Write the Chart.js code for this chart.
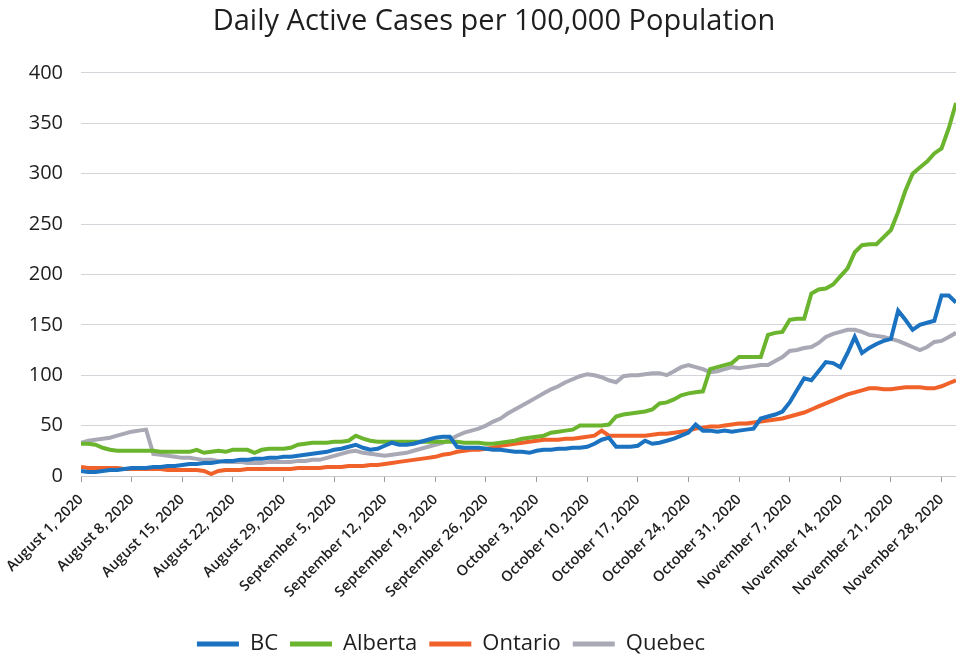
<!DOCTYPE html>
<html>
<head>
<meta charset="utf-8">
<script src="https://cdn.jsdelivr.net/npm/chart.js@4.4.1/dist/chart.umd.min.js"></script>
<style>
  html, body { margin: 0; padding: 0; background: #ffffff; }
  #wrap { width: 956px; height: 654px; }
</style>
</head>
<body>
<div id="wrap"><canvas id="c" width="956" height="654"></canvas></div>
<script>
// Weekly tick labels (every 7 days starting August 1, 2020)
const tickLabels = [
  "August 1, 2020", "August 8, 2020", "August 15, 2020", "August 22, 2020", "August 29, 2020",
  "September 5, 2020", "September 12, 2020", "September 19, 2020", "September 26, 2020",
  "October 3, 2020", "October 10, 2020", "October 17, 2020", "October 24, 2020", "October 31, 2020",
  "November 7, 2020", "November 14, 2020", "November 21, 2020", "November 28, 2020"
];
const seriesNames = ["BC", "Alberta", "Ontario", "Quebec"];

// Daily values, August 1 .. November 30, 2020 (122 days)
const bc = [
  5, 4, 4, 5, 6, 6, 7, 8, 8, 8, 9, 9, 10, 10, 11, 12, 12, 13, 13, 14,
  15, 15, 16, 16, 17, 17, 18, 18, 19, 19, 20, 21, 22, 23, 24, 26, 27, 29, 31, 28,
  26, 27, 30, 33, 31, 31, 32, 34, 36, 38, 39, 39, 29, 28, 28, 28, 27, 26, 26, 25,
  24, 24, 23, 25, 26, 26, 27, 27, 28, 28, 29, 32, 36, 38, 29, 29, 29, 30, 35, 32,
  33, 35, 37, 40, 43, 51, 45, 45, 44, 45, 44, 45, 46, 47, 57, 59, 61, 64, 73, 85,
  97, 95, 104, 113, 112, 108, 122, 138, 122, 127, 131, 134, 136, 164, 155, 145, 150, 152, 154, 179,
  179, 172
];
const alberta = [
  32, 32, 31, 28, 26, 25, 25, 25, 25, 25, 25, 24, 24, 24, 24, 24, 26, 23, 24, 25,
  24, 26, 26, 26, 23, 26, 27, 27, 27, 28, 31, 32, 33, 33, 33, 34, 34, 35, 40, 37,
  35, 34, 34, 34, 34, 34, 34, 34, 34, 34, 34, 34, 34, 33, 33, 33, 32, 32, 33, 34,
  35, 37, 38, 39, 40, 43, 44, 45, 46, 50, 50, 50, 50, 51, 59, 61, 62, 63, 64, 66,
  72, 73, 76, 80, 82, 83, 84, 106, 108, 110, 112, 118, 118, 118, 118, 140, 142, 143, 155, 156,
  156, 181, 185, 186, 190, 198, 206, 222, 229, 230, 230, 237, 244, 262, 283, 300, 306, 312, 320, 325,
  345, 370
];
const ontario = [
  9, 8, 8, 8, 8, 8, 7, 7, 7, 7, 7, 7, 6, 6, 6, 6, 6, 5, 2, 5,
  6, 6, 6, 7, 7, 7, 7, 7, 7, 7, 8, 8, 8, 8, 9, 9, 9, 10, 10, 10,
  11, 11, 12, 13, 14, 15, 16, 17, 18, 19, 21, 22, 24, 25, 26, 26, 27, 28, 30, 31,
  32, 33, 34, 35, 36, 36, 36, 37, 37, 38, 39, 40, 45, 40, 40, 40, 40, 40, 40, 41,
  42, 42, 43, 44, 45, 47, 48, 49, 49, 50, 51, 52, 52, 53, 54, 55, 56, 57, 59, 61,
  63, 66, 69, 72, 75, 78, 81, 83, 85, 87, 87, 86, 86, 87, 88, 88, 88, 87, 87, 89,
  92, 95
];
const quebec = [
  33, 35, 36, 37, 38, 40, 42, 44, 45, 46, 22, 21, 20, 19, 18, 18, 17, 16, 16, 15,
  14, 14, 14, 13, 13, 13, 14, 14, 14, 14, 15, 15, 16, 16, 18, 20, 22, 24, 25, 23,
  22, 21, 20, 21, 22, 23, 25, 27, 29, 31, 33, 36, 40, 43, 45, 47, 50, 54, 57, 62,
  66, 70, 74, 78, 82, 86, 89, 93, 96, 99, 101, 100, 98, 95, 93, 99, 100, 100, 101, 102,
  102, 100, 104, 108, 110, 108, 106, 103, 104, 106, 108, 107, 108, 109, 110, 110, 114, 118, 124, 125,
  127, 128, 132, 138, 141, 143, 145, 145, 143, 140, 139, 138, 136, 134, 131, 128, 125, 128, 133, 134,
  138, 142
];
const colors = ["#1a72c0", "#6bb42e", "#f0622a", "#a9a9b6"];

const allSeries = [bc, alberta, ontario, quebec];
const datasets = allSeries.map((arr, k) => ({
  label: seriesNames[k],
  data: arr.map((v, i) => ({ x: i, y: v })),
  borderColor: colors[k],
  backgroundColor: colors[k],
  borderWidth: 4,
  pointRadius: 0,
  tension: 0,
  order: k
}));
const weekTicks = tickLabels.map((_, i) => i * 7);
const FONT = "'Open Sans', 'Noto Sans', sans-serif";

// shift title / legend horizontally to match the source placement
const shiftBlocks = {
  id: 'shiftBlocks',
  afterLayout(chart) {
    if (chart.titleBlock) { chart.titleBlock.left += 32; }
    if (chart.legend) {
      chart.legend.right -= 54;
      chart.legend.top += 11;
      chart.legend.bottom += 11;
    }
  }
};

new Chart(document.getElementById('c'), {
  type: 'line',
  data: { datasets },
  plugins: [shiftBlocks],
  options: {
    responsive: false,
    animation: false,
    devicePixelRatio: 1,
    layout: { padding: { left: 0, right: 0, top: 0, bottom: 0 } },
    plugins: {
      title: {
        display: true,
        text: "Daily Active Cases per 100,000 Population",
        color: "#1e1e1e",
        font: { family: FONT, size: 29, weight: 'normal' },
        padding: { top: 4, bottom: 34 }
      },
      legend: {
        position: 'bottom',
        labels: {
          color: "#1e1e1e",
          font: { family: FONT, size: 22 },
          boxWidth: 42,
          boxHeight: 5,
          padding: 12,
          generateLabels: (chart) => Chart.defaults.plugins.legend.labels.generateLabels(chart)
            .map(l => Object.assign(l, { lineWidth: 0, fillStyle: l.strokeStyle }))
        }
      },
      tooltip: { enabled: false }
    },
    scales: {
      x: {
        type: 'linear',
        min: 0,
        max: 121,
        afterBuildTicks: (scale) => { scale.ticks = weekTicks.map(v => ({ value: v })); },
        afterFit: (scale) => { scale.height = 134; scale.paddingLeft = 0; scale.paddingRight = 0; },
        ticks: {
          autoSkip: false,
          maxRotation: 45,
          minRotation: 45,
          color: "#1e1e1e",
          font: { family: FONT, size: 14.5, weight: '600' },
          padding: 9,
          callback: (v) => tickLabels[Math.round(v / 7)]
        },
        grid: { display: true, drawOnChartArea: false, drawTicks: true, tickLength: 6, color: "#9a9a9a" },
        border: { display: true, color: "#c8c8cc", width: 1 }
      },
      y: {
        min: 0,
        max: 400,
        afterFit: (scale) => { scale.width = 81; },
        ticks: {
          stepSize: 50,
          color: "#1e1e1e",
          font: { family: FONT, size: 20 },
          padding: 18
        },
        grid: { color: "#d4d4da", drawTicks: false, lineWidth: 1 },
        border: { display: false }
      }
    }
  }
});
</script>
</body>
</html>
